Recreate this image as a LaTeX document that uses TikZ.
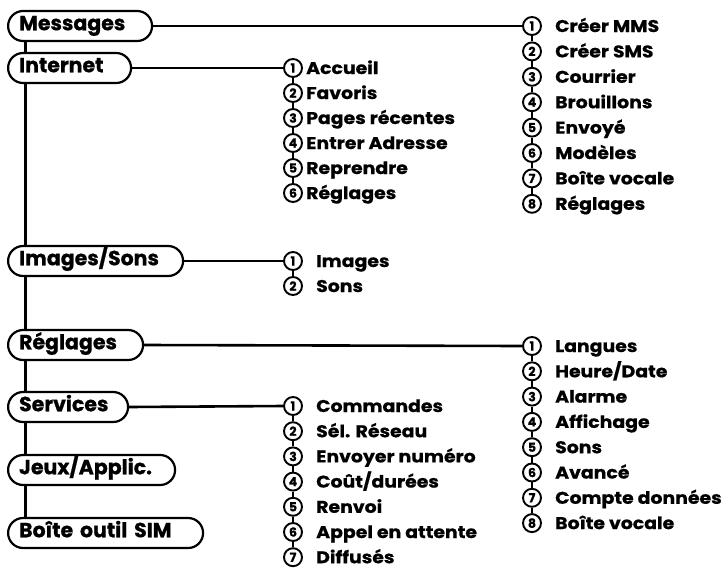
\documentclass[tikz,border=0pt]{standalone}
\usepackage{fontspec}
\setmainfont{Poppins}
\newfontfamily\menufont{Poppins}[BoldFeatures={FakeBold=0.8}]
\newfontfamily\itemfont{Poppins}[FakeStretch=1.11, BoldFeatures={FakeBold=0.7}]
\usetikzlibrary{positioning,backgrounds}

\begin{document}
\begin{tikzpicture}[
  x=1pt, y=-1pt,
  menu/.style={draw, fill=white, line width=2.2pt,
    rounded corners=15pt, minimum height=30pt,
    inner xsep=11pt, anchor=west, align=left,
    text height=15pt, text depth=6.5pt,
    font=\menufont\fontsize{20.5}{22}\selectfont\bfseries},
  num/.style={circle, draw, fill=white, line width=1.9pt,
    minimum size=18pt, inner sep=0pt,
    font=\menufont\fontsize{12.5}{13}\selectfont\bfseries},
  item/.style={anchor=west, inner sep=0pt,
    text height=12pt, text depth=0pt,
    font=\itemfont\fontsize{17}{18}\selectfont\bfseries},
  trunk/.style={line width=3pt},
  link/.style={line width=2.6pt},
  tick/.style={line width=1.8pt}
]
  \useasboundingbox (0,0) rectangle (723,568);

  % Main menu
  \node[menu, text width=122pt] (messages) at (7,26)  {Messages};
  \node[menu, text width=101pt] (internet) at (7,68)  {Internet};
  \node[menu, text width=153pt] (images)   at (7,261) {Images/Sons};
  \node[menu, text width=113pt] (reglages) at (7,345) {Réglages};
  \node[menu, text width=98pt]  (services) at (7,407) {Services};
  \node[menu, text width=145pt] (jeux)     at (7,470) {Jeux/Applic.};
  \node[menu, text width=173pt] (sim)      at (7,533) {Boîte outil SIM};

  \begin{scope}[on background layer]
    \draw[trunk] ([xshift=18pt]messages.south west) -- ([xshift=18pt]sim.north west);
  \end{scope}

  % Messages submenu
  \foreach \t [count=\i] in {Créer MMS, Créer SMS, Courrier, Brouillons,
      Envoyé, Modèles, Boîte vocale, Réglages} {
    \node[num] (mes\i) at (532,{26+(\i-1)*25.4}) {\i};
    \node[item] (mest\i) at (555,{26+(\i-1)*25.4}) {\t};
  }
  \foreach \i [count=\j from 2] in {1,...,7}
    \draw[tick] (mes\i) -- (mes\j);
  \draw[link] (messages.east) -- (mes1.west);

  % Internet submenu
  \foreach \t [count=\i] in {Accueil, Favoris, Pages récentes,
      Entrer Adresse, Reprendre, Réglages} {
    \node[num] (int\i) at (293,{68+(\i-1)*25}) {\i};
    \node[item] (intt\i) at (306,{68+(\i-1)*25}) {\t};
  }
  \foreach \i [count=\j from 2] in {1,...,5}
    \draw[tick] (int\i) -- (int\j);
  \draw[link] (internet.east) -- (int1.west);

  % Images/Sons submenu
  \foreach \t [count=\i] in {Images, Sons} {
    \node[num] (img\i) at (293,{261+(\i-1)*25}) {\i};
    \node[item] (imgt\i) at (316,{261+(\i-1)*25}) {\t};
  }
  \draw[tick] (img1) -- (img2);
  \draw[link] (images.east) -- (img1.west);

  % Reglages submenu
  \foreach \t [count=\i] in {Langues, {Heure/Date}, Alarme, Affichage,
      Sons, Avancé, Compte données, Boîte vocale} {
    \node[num] (reg\i) at (532,{346+(\i-1)*25.3}) {\i};
    \node[item] (regt\i) at (555,{346+(\i-1)*25.3}) {\t};
  }
  \foreach \i [count=\j from 2] in {1,...,7}
    \draw[tick] (reg\i) -- (reg\j);
  \draw[link] (reglages.east) -- (reg1.west);

  % Services submenu
  \foreach \t [count=\i] in {Commandes, Sél. Réseau, Envoyer numéro,
      {Coût/durées}, Renvoi, Appel en attente, Diffusés} {
    \node[num] (ser\i) at (293,{406+(\i-1)*25.2}) {\i};
    \node[item] (sert\i) at (316,{406+(\i-1)*25.2}) {\t};
  }
  \foreach \i [count=\j from 2] in {1,...,6}
    \draw[tick] (ser\i) -- (ser\j);
  \draw[link] (services.east) -- (ser1.west);
\end{tikzpicture}
\end{document}
